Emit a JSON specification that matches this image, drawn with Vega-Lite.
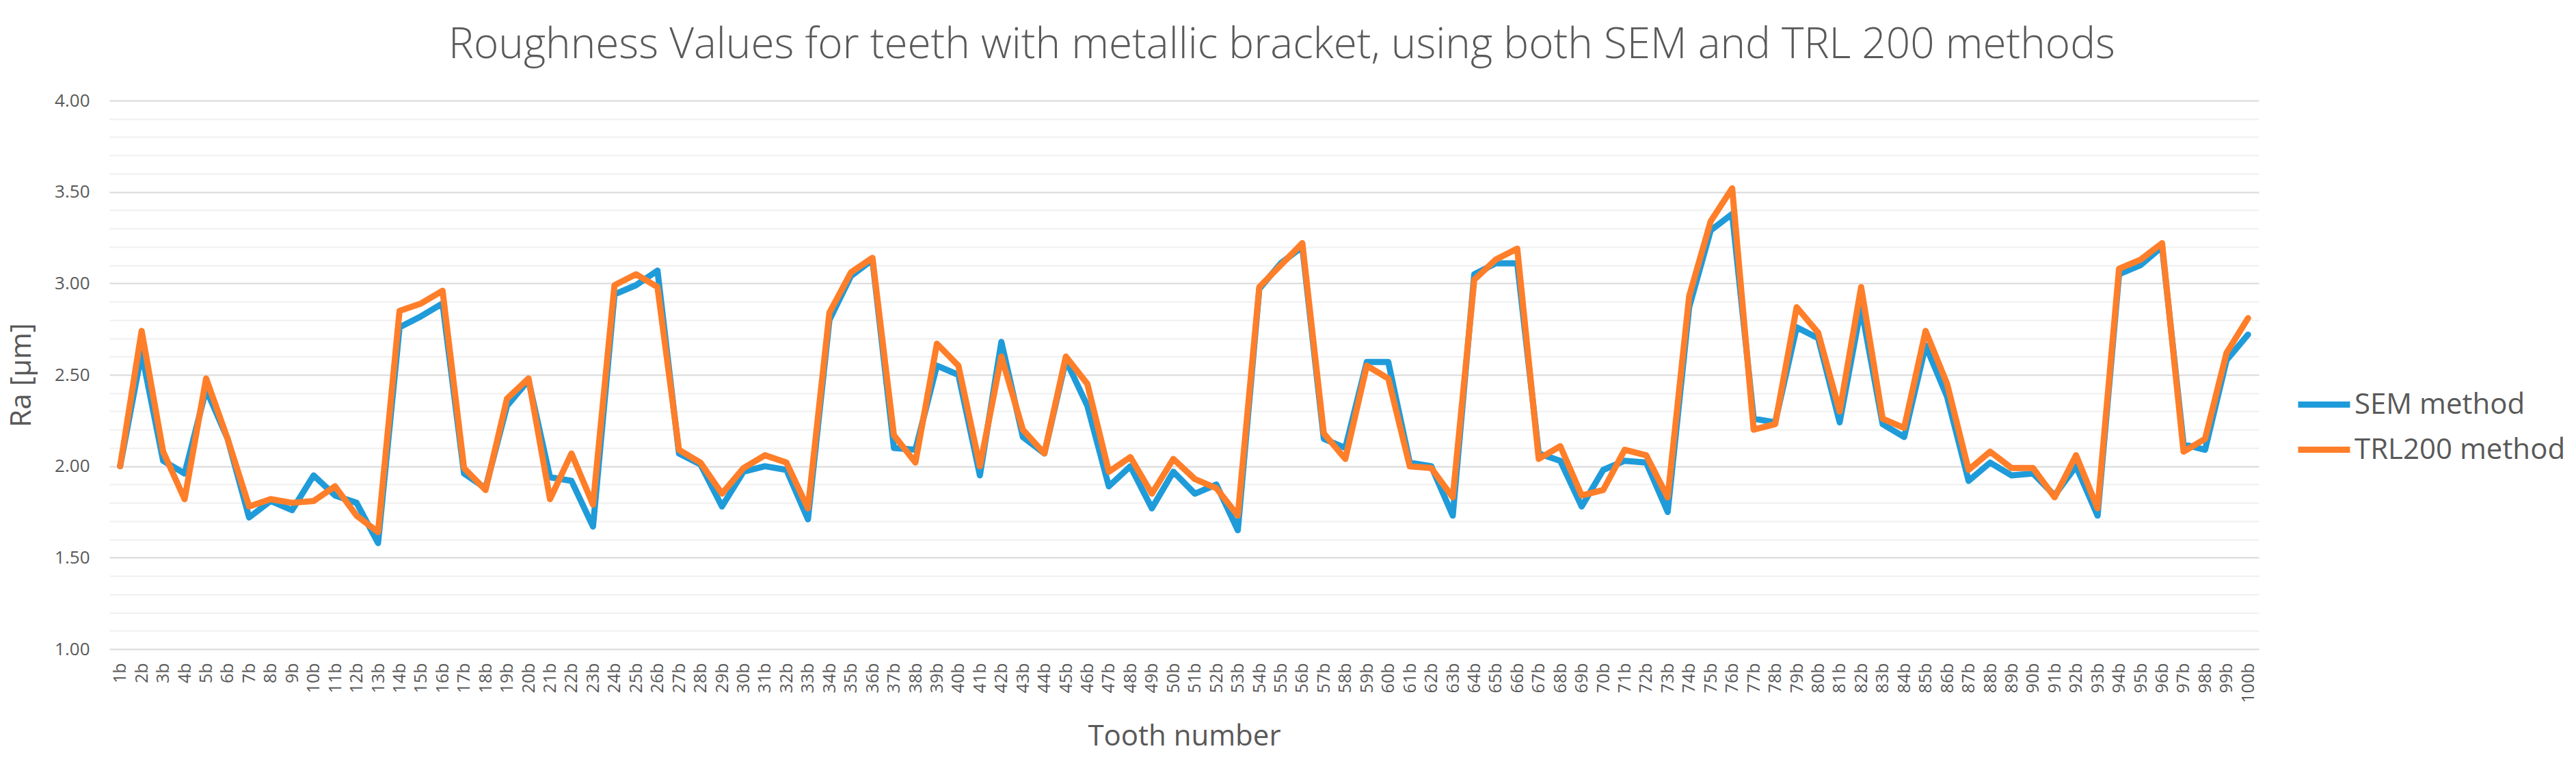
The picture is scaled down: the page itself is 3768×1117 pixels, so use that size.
{
  "$schema": "https://vega.github.io/schema/vega-lite/v6.json",
  "width": 3144,
  "height": 802,
  "autosize": "none",
  "padding": {"left": 160, "top": 147, "right": 464, "bottom": 168},
  "background": "white",
  "config": {
    "view": {"stroke": null},
    "font": "Open Sans"
  },
  "title": {
    "text": "Roughness Values for teeth with metallic bracket, using both SEM and TRL 200 methods",
    "font": "Open Sans",
    "fontSize": 62,
    "fontWeight": 300,
    "color": "#595959",
    "anchor": "middle",
    "dx": 143,
    "offset": 36
  },
  "data": {
    "values": [
      {"tooth": "1b", "sem": 2.00, "trl": 2.00},
      {"tooth": "2b", "sem": 2.62, "trl": 2.74},
      {"tooth": "3b", "sem": 2.03, "trl": 2.08},
      {"tooth": "4b", "sem": 1.96, "trl": 1.82},
      {"tooth": "5b", "sem": 2.42, "trl": 2.48},
      {"tooth": "6b", "sem": 2.15, "trl": 2.15},
      {"tooth": "7b", "sem": 1.72, "trl": 1.78},
      {"tooth": "8b", "sem": 1.81, "trl": 1.82},
      {"tooth": "9b", "sem": 1.76, "trl": 1.80},
      {"tooth": "10b", "sem": 1.95, "trl": 1.81},
      {"tooth": "11b", "sem": 1.84, "trl": 1.89},
      {"tooth": "12b", "sem": 1.80, "trl": 1.73},
      {"tooth": "13b", "sem": 1.58, "trl": 1.64},
      {"tooth": "14b", "sem": 2.76, "trl": 2.85},
      {"tooth": "15b", "sem": 2.82, "trl": 2.89},
      {"tooth": "16b", "sem": 2.89, "trl": 2.96},
      {"tooth": "17b", "sem": 1.96, "trl": 1.99},
      {"tooth": "18b", "sem": 1.88, "trl": 1.87},
      {"tooth": "19b", "sem": 2.33, "trl": 2.37},
      {"tooth": "20b", "sem": 2.47, "trl": 2.48},
      {"tooth": "21b", "sem": 1.94, "trl": 1.82},
      {"tooth": "22b", "sem": 1.92, "trl": 2.07},
      {"tooth": "23b", "sem": 1.67, "trl": 1.79},
      {"tooth": "24b", "sem": 2.94, "trl": 2.99},
      {"tooth": "25b", "sem": 2.99, "trl": 3.05},
      {"tooth": "26b", "sem": 3.07, "trl": 2.98},
      {"tooth": "27b", "sem": 2.07, "trl": 2.09},
      {"tooth": "28b", "sem": 2.01, "trl": 2.02},
      {"tooth": "29b", "sem": 1.78, "trl": 1.85},
      {"tooth": "30b", "sem": 1.97, "trl": 1.99},
      {"tooth": "31b", "sem": 2.00, "trl": 2.06},
      {"tooth": "32b", "sem": 1.98, "trl": 2.02},
      {"tooth": "33b", "sem": 1.71, "trl": 1.77},
      {"tooth": "34b", "sem": 2.80, "trl": 2.84},
      {"tooth": "35b", "sem": 3.04, "trl": 3.06},
      {"tooth": "36b", "sem": 3.13, "trl": 3.14},
      {"tooth": "37b", "sem": 2.10, "trl": 2.17},
      {"tooth": "38b", "sem": 2.09, "trl": 2.02},
      {"tooth": "39b", "sem": 2.55, "trl": 2.67},
      {"tooth": "40b", "sem": 2.50, "trl": 2.55},
      {"tooth": "41b", "sem": 1.95, "trl": 2.00},
      {"tooth": "42b", "sem": 2.68, "trl": 2.60},
      {"tooth": "43b", "sem": 2.16, "trl": 2.20},
      {"tooth": "44b", "sem": 2.07, "trl": 2.07},
      {"tooth": "45b", "sem": 2.58, "trl": 2.60},
      {"tooth": "46b", "sem": 2.33, "trl": 2.45},
      {"tooth": "47b", "sem": 1.89, "trl": 1.97},
      {"tooth": "48b", "sem": 2.00, "trl": 2.05},
      {"tooth": "49b", "sem": 1.77, "trl": 1.85},
      {"tooth": "50b", "sem": 1.97, "trl": 2.04},
      {"tooth": "51b", "sem": 1.85, "trl": 1.93},
      {"tooth": "52b", "sem": 1.90, "trl": 1.88},
      {"tooth": "53b", "sem": 1.65, "trl": 1.73},
      {"tooth": "54b", "sem": 2.97, "trl": 2.98},
      {"tooth": "55b", "sem": 3.11, "trl": 3.10},
      {"tooth": "56b", "sem": 3.20, "trl": 3.22},
      {"tooth": "57b", "sem": 2.15, "trl": 2.18},
      {"tooth": "58b", "sem": 2.10, "trl": 2.04},
      {"tooth": "59b", "sem": 2.57, "trl": 2.55},
      {"tooth": "60b", "sem": 2.57, "trl": 2.48},
      {"tooth": "61b", "sem": 2.02, "trl": 2.00},
      {"tooth": "62b", "sem": 2.00, "trl": 1.99},
      {"tooth": "63b", "sem": 1.73, "trl": 1.83},
      {"tooth": "64b", "sem": 3.05, "trl": 3.02},
      {"tooth": "65b", "sem": 3.11, "trl": 3.13},
      {"tooth": "66b", "sem": 3.11, "trl": 3.19},
      {"tooth": "67b", "sem": 2.07, "trl": 2.04},
      {"tooth": "68b", "sem": 2.03, "trl": 2.11},
      {"tooth": "69b", "sem": 1.78, "trl": 1.84},
      {"tooth": "70b", "sem": 1.98, "trl": 1.87},
      {"tooth": "71b", "sem": 2.03, "trl": 2.09},
      {"tooth": "72b", "sem": 2.02, "trl": 2.06},
      {"tooth": "73b", "sem": 1.75, "trl": 1.83},
      {"tooth": "74b", "sem": 2.87, "trl": 2.93},
      {"tooth": "75b", "sem": 3.29, "trl": 3.34},
      {"tooth": "76b", "sem": 3.38, "trl": 3.52},
      {"tooth": "77b", "sem": 2.26, "trl": 2.20},
      {"tooth": "78b", "sem": 2.24, "trl": 2.23},
      {"tooth": "79b", "sem": 2.76, "trl": 2.87},
      {"tooth": "80b", "sem": 2.70, "trl": 2.73},
      {"tooth": "81b", "sem": 2.24, "trl": 2.30},
      {"tooth": "82b", "sem": 2.87, "trl": 2.98},
      {"tooth": "83b", "sem": 2.23, "trl": 2.26},
      {"tooth": "84b", "sem": 2.16, "trl": 2.21},
      {"tooth": "85b", "sem": 2.66, "trl": 2.74},
      {"tooth": "86b", "sem": 2.38, "trl": 2.45},
      {"tooth": "87b", "sem": 1.92, "trl": 1.98},
      {"tooth": "88b", "sem": 2.02, "trl": 2.08},
      {"tooth": "89b", "sem": 1.95, "trl": 1.99},
      {"tooth": "90b", "sem": 1.96, "trl": 1.99},
      {"tooth": "91b", "sem": 1.84, "trl": 1.83},
      {"tooth": "92b", "sem": 2.00, "trl": 2.06},
      {"tooth": "93b", "sem": 1.73, "trl": 1.77},
      {"tooth": "94b", "sem": 3.05, "trl": 3.08},
      {"tooth": "95b", "sem": 3.10, "trl": 3.13},
      {"tooth": "96b", "sem": 3.20, "trl": 3.22},
      {"tooth": "97b", "sem": 2.12, "trl": 2.08},
      {"tooth": "98b", "sem": 2.09, "trl": 2.15},
      {"tooth": "99b", "sem": 2.58, "trl": 2.62},
      {"tooth": "100b", "sem": 2.72, "trl": 2.81}
    ]
  },
  "encoding": {
    "x": {
      "field": "tooth",
      "type": "ordinal",
      "sort": null,
      "scale": {"type": "point", "padding": 0.5},
      "axis": {
        "title": "Tooth number",
        "titleFont": "Open Sans",
        "titleFontSize": 42,
        "titleFontWeight": "normal",
        "titleColor": "#595959",
        "titlePadding": 29,
        "labelAngle": -90,
        "labelFont": "Open Sans",
        "labelFontSize": 25,
        "labelColor": "#595959",
        "labelPadding": 20,
        "labelOverlap": false,
        "ticks": false,
        "tickSize": 0,
        "domain": false,
        "grid": false
      }
    }
  },
  "layer": [
    {
      "layer": [
        {
          "mark": {"type": "line", "strokeWidth": 9, "strokeJoin": "round", "strokeCap": "round"},
          "encoding": {
            "y": {
              "field": "sem",
              "type": "quantitative",
              "scale": {"domain": [1, 4], "nice": false, "zero": false},
              "axis": {
                "title": "Ra [µm]",
                "titleFont": "Open Sans",
                "titleFontSize": 42,
                "titleFontWeight": "normal",
                "titleColor": "#595959",
                "titlePadding": 26,
                "values": [1, 1.5, 2, 2.5, 3, 3.5, 4],
                "format": ".2f",
                "labelFont": "Open Sans",
                "labelFontSize": 26,
                "labelColor": "#595959",
                "labelPadding": 29,
                "ticks": false,
                "tickSize": 0,
                "domain": false,
                "grid": true,
                "gridColor": "#d9d9d9",
                "gridWidth": 2
              }
            },
            "color": {
              "datum": "SEM method",
              "type": "nominal",
              "scale": {"domain": ["SEM method", "TRL200 method"], "range": ["#1F9BDA", "#FF7E29"]},
              "legend": {
                "title": null,
                "orient": "none",
                "legendX": 3197,
                "legendY": 402,
                "symbolType": "stroke",
                "symbolSize": 5776,
                "symbolStrokeWidth": 9,
                "labelFont": "Open Sans",
                "labelFontSize": 42,
                "labelColor": "#595959",
                "labelLimit": 0,
                "labelOffset": 2,
                "rowPadding": 2
              }
            }
          }
        },
        {
          "mark": {"type": "line", "strokeWidth": 9, "strokeJoin": "round", "strokeCap": "round"},
          "encoding": {
            "y": {
              "field": "trl",
              "type": "quantitative",
              "scale": {"domain": [1, 4], "nice": false, "zero": false},
              "axis": {
                "title": "Ra [µm]",
                "titleFont": "Open Sans",
                "titleFontSize": 42,
                "titleFontWeight": "normal",
                "titleColor": "#595959",
                "titlePadding": 26,
                "values": [1, 1.5, 2, 2.5, 3, 3.5, 4],
                "format": ".2f",
                "labelFont": "Open Sans",
                "labelFontSize": 26,
                "labelColor": "#595959",
                "labelPadding": 29,
                "ticks": false,
                "tickSize": 0,
                "domain": false,
                "grid": true,
                "gridColor": "#d9d9d9",
                "gridWidth": 2
              }
            },
            "color": {"datum": "TRL200 method", "type": "nominal"}
          }
        }
      ]
    },
    {
      "mark": {"type": "line", "opacity": 0},
      "encoding": {
        "y": {
          "field": "sem",
          "type": "quantitative",
          "axis": {
            "orient": "right",
            "title": null,
            "labels": false,
            "ticks": false,
            "domain": false,
            "grid": true,
            "gridColor": "#efefef",
            "gridWidth": 2,
            "values": [1.1, 1.2, 1.3, 1.4, 1.6, 1.7, 1.8, 1.9, 2.1, 2.2, 2.3, 2.4, 2.6, 2.7, 2.8, 2.9, 3.1, 3.2, 3.3, 3.4, 3.6, 3.7, 3.8, 3.9]
          }
        }
      }
    }
  ],
  "resolve": {"axis": {"y": "independent"}}
}
